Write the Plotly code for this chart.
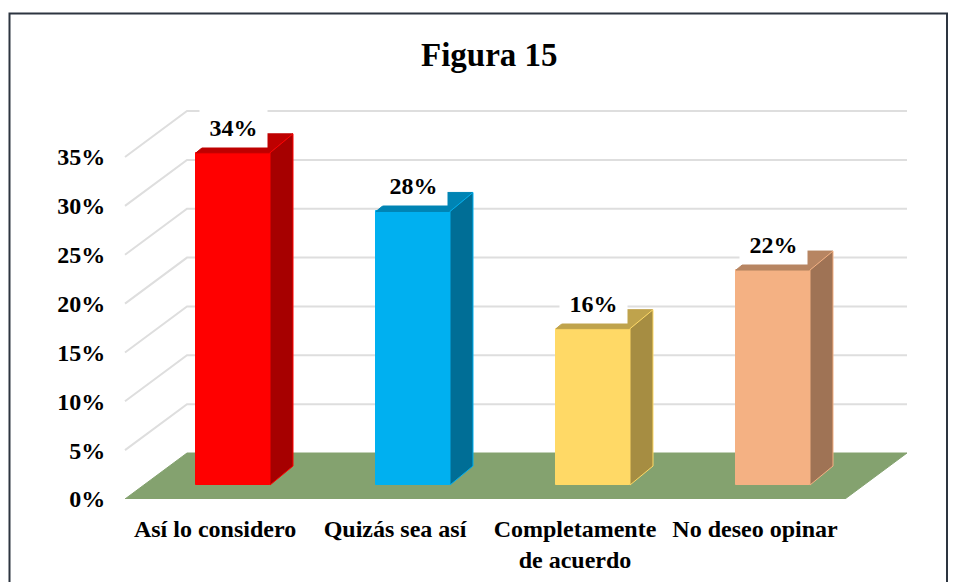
"""Figura 15: pseudo-3D column chart drawn with Plotly"""

import plotly.graph_objects as go

categories = ['Así lo considero', 'Quizás sea así', 'Completamente<br>de acuerdo', 'No deseo opinar']
values = [34, 28, 16, 22]
value_labels = ['34%', '28%', '16%', '22%']
y_ticks = [0, 5, 10, 15, 20, 25, 30, 35]
y_tick_labels = ['0%', '5%', '10%', '15%', '20%', '25%', '30%', '35%']

front_colors = ['#FF0000', '#00B0F0', '#FFD966', '#F4B183']
top_colors = ['#BE0000', '#0084B4', '#BFA34C', '#B78562']
side_colors = ['#A60000', '#006E96', '#A68D42', '#9F7355']

FONT = 'Liberation Serif'
WIDTH, HEIGHT = 957, 582
LEFT, RIGHT, TOP, BOTTOM = 112, 915, 100, 499
PX_PER_X = 180.0
PX_PER_Y = 9.77

# depth of the floor and of the columns, in axis units
floor_dx, floor_dy = 62 / PX_PER_X, 46 / PX_PER_Y
bar_shift = 18 / PX_PER_X
bar_base = 14 / PX_PER_Y
bar_dx, bar_dy = 23 / PX_PER_X, 19 / PX_PER_Y
bar_width = 74 / PX_PER_X

x_range = [(LEFT - 215) / PX_PER_X, (RIGHT - 215) / PX_PER_X]
y_range = [0, (BOTTOM - TOP) / PX_PER_Y]
x_start, x_end = -0.5, len(categories) - 0.5

fig = go.Figure()

# back wall grid lines
for tick in y_ticks[1:]:
    fig.add_trace(go.Scatter(
        x=[x_start, x_start + floor_dx, x_end + floor_dx],
        y=[tick, tick + floor_dy, tick + floor_dy],
        mode='lines',
        line=dict(color='#DEDEDE', width=2),
        hoverinfo='skip',
        showlegend=False
    ))

# floor
fig.add_trace(go.Scatter(
    x=[x_start, x_start + floor_dx, x_end + floor_dx, x_end, x_start],
    y=[0, floor_dy, floor_dy, 0, 0],
    mode='lines',
    fill='toself',
    fillcolor='#84A26F',
    line=dict(color='#84A26F', width=1),
    hoverinfo='skip',
    showlegend=False
))

# columns go on an overlaying axis pair so they sit above the floor
fig.add_trace(go.Bar(
    x=[i + bar_shift for i in range(len(values))],
    y=values,
    base=bar_base,
    width=bar_width,
    marker=dict(color=front_colors, line=dict(color=front_colors, width=1)),
    xaxis='x2',
    yaxis='y2',
    hovertemplate='%{y}%<extra></extra>',
    showlegend=False
))

for i, value in enumerate(values):
    x0 = i + bar_shift - bar_width / 2
    x1 = i + bar_shift + bar_width / 2
    top = bar_base + value
    # top face
    fig.add_trace(go.Scatter(
        x=[x0, x0 + bar_dx, x1 + bar_dx, x1, x0],
        y=[top, top + bar_dy, top + bar_dy, top, top],
        mode='lines',
        fill='toself',
        fillcolor=top_colors[i],
        line=dict(color=top_colors[i], width=1),
        xaxis='x2',
        yaxis='y2',
        hoverinfo='skip',
        showlegend=False
    ))
    # side face
    fig.add_trace(go.Scatter(
        x=[x1, x1 + bar_dx, x1 + bar_dx, x1, x1],
        y=[bar_base, bar_base + bar_dy, top + bar_dy, top, bar_base],
        mode='lines',
        fill='toself',
        fillcolor=side_colors[i],
        line=dict(color=front_colors[i], width=1),
        xaxis='x2',
        yaxis='y2',
        hoverinfo='skip',
        showlegend=False
    ))

annotations = [
    dict(
        x=i + bar_shift,
        y=bar_base + value,
        xref='x2',
        yref='y2',
        yshift=25,
        text=f'<b>{value_labels[i]}</b>',
        showarrow=False,
        bgcolor='white',
        width=65,
        height=36,
        font=dict(family=FONT, size=24, color='black')
    )
    for i, value in enumerate(values)
]
annotations.append(dict(
    x=(489 - LEFT) / (RIGHT - LEFT),
    y=(BOTTOM - 55) / (BOTTOM - TOP),
    xref='paper',
    yref='paper',
    xanchor='center',
    yanchor='middle',
    text='<b>Figura 15</b>',
    showarrow=False,
    font=dict(family=FONT, size=33, color='black')
))

fig.update_layout(
    width=WIDTH,
    height=HEIGHT,
    autosize=False,
    margin=dict(l=LEFT, r=WIDTH - RIGHT, t=TOP, b=HEIGHT - BOTTOM, pad=0, autoexpand=False),
    paper_bgcolor='white',
    plot_bgcolor='white',
    showlegend=False,
    bargap=0,
    xaxis=dict(
        range=x_range,
        automargin=False,
        tickmode='array',
        tickvals=list(range(len(categories))),
        ticktext=[f'<b>{c}</b>' for c in categories],
        tickfont=dict(family=FONT, size=24, color='black'),
        showgrid=False,
        zeroline=False,
        showline=False,
        ticks='outside',
        ticklen=8,
        tickcolor='rgba(0,0,0,0)',
        tickangle=0
    ),
    yaxis=dict(
        range=y_range,
        automargin=False,
        tickmode='array',
        tickvals=y_ticks,
        ticktext=[f'<b>{t}</b>' for t in y_tick_labels],
        tickfont=dict(family=FONT, size=24, color='black'),
        showgrid=False,
        zeroline=False,
        showline=False,
        ticks='outside',
        ticklen=1,
        tickcolor='rgba(0,0,0,0)'
    ),
    xaxis2=dict(range=x_range, overlaying='x', visible=False),
    yaxis2=dict(range=y_range, overlaying='y', visible=False),
    annotations=annotations,
    shapes=[dict(
        type='rect',
        xref='paper',
        yref='paper',
        x0=(9.5 - LEFT) / (RIGHT - LEFT),
        x1=(947 - LEFT) / (RIGHT - LEFT),
        y0=(BOTTOM - 600) / (BOTTOM - TOP),
        y1=(BOTTOM - 13.5) / (BOTTOM - TOP),
        line=dict(color='#2D3540', width=2),
        fillcolor='rgba(0,0,0,0)',
        layer='below'
    )]
)

# the page's default body margin would push the chart 8px off
fig.write_html(
    "out.html",
    config={'displayModeBar': False},
    post_script="document.body.style.margin='0';document.body.style.overflow='hidden';"
)
